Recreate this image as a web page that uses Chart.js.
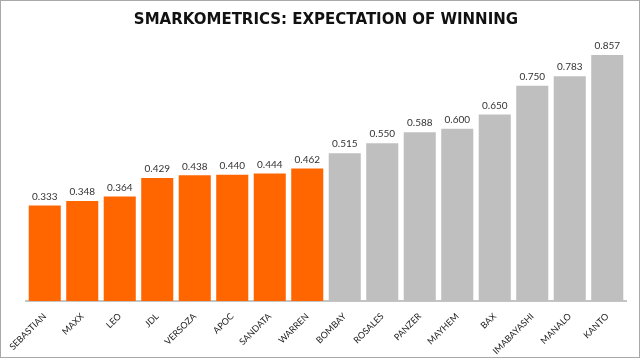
<!DOCTYPE html>
<html>
<head>
<meta charset="utf-8">
<script src="https://cdn.jsdelivr.net/npm/chart.js@4.4.1/dist/chart.umd.min.js"></script>
<style>
  body { margin: 0; background: #fff; }
  #wrap { width: 640px; height: 358px; box-sizing: border-box; border: 1px solid #a8a8a8; }
</style>
</head>
<body>
<div id="wrap"><canvas id="myChart" width="638" height="356"></canvas></div>
<script>
'use strict';

let players = ['SEBASTIAN', 'MAXX', 'LEO', 'JDL', 'VERSOZA', 'APOC', 'SANDATA', 'WARREN',
  'BOMBAY', 'ROSALES', 'PANZER', 'MAYHEM', 'BAX', 'IMABAYASHI', 'MANALO', 'KANTO'];
let winExpectation = [0.333, 0.348, 0.364, 0.429, 0.438, 0.440, 0.444, 0.462,
  0.515, 0.550, 0.588, 0.600, 0.650, 0.750, 0.783, 0.857];
let highlighted = 8; // first 8 players drawn in orange

let barColors = players.map((p, i) => i < highlighted ? '#ff6600' : '#bfbfbf');

// value labels above each bar
let valueLabels = {
  id: 'valueLabels',
  afterDatasetsDraw(chart) {
    let ctx = chart.ctx;
    let meta = chart.getDatasetMeta(0);
    ctx.save();
    ctx.font = '10px Lato';
    ctx.fillStyle = '#333';
    ctx.textAlign = 'center';
    ctx.textBaseline = 'bottom';
    meta.data.forEach((bar, i) => {
      ctx.fillText(winExpectation[i].toFixed(3), bar.x, bar.y - 4);
    });
    ctx.restore();
  }
};

let chartContext = document.getElementById('myChart').getContext('2d');
let myChart = new Chart(chartContext, {
  type: 'bar',
  data: {
    labels: players,
    datasets: [{
      data: winExpectation,
      backgroundColor: barColors,
      borderWidth: 0,
      barPercentage: 0.855,
      categoryPercentage: 1
    }]
  },
  options: {
    responsive: false,
    animation: false,
    layout: { padding: { left: 25, right: 13, top: 0, bottom: 0 } },
    plugins: {
      legend: { display: false },
      tooltip: { enabled: false },
      title: {
        display: true,
        text: 'SMARKOMETRICS: EXPECTATION OF WINNING',
        color: '#111',
        font: { family: '"DejaVu Sans"', size: 15, weight: 'bold', lineHeight: 1.2 },
        padding: { top: 10, bottom: 13.7 }
      }
    },
    scales: {
      x: {
        grid: { display: false },
        border: { display: true, color: '#c4c4c4', width: 2 },
        ticks: {
          color: '#222',
          font: { family: 'Lato', size: 9 },
          minRotation: 45,
          maxRotation: 45,
          padding: 2
        },
        afterFit(scale) { scale.height = 56; }
      },
      y: {
        display: false,
        min: 0,
        max: 0.9
      }
    }
  },
  plugins: [valueLabels]
});
</script>
</body>
</html>
